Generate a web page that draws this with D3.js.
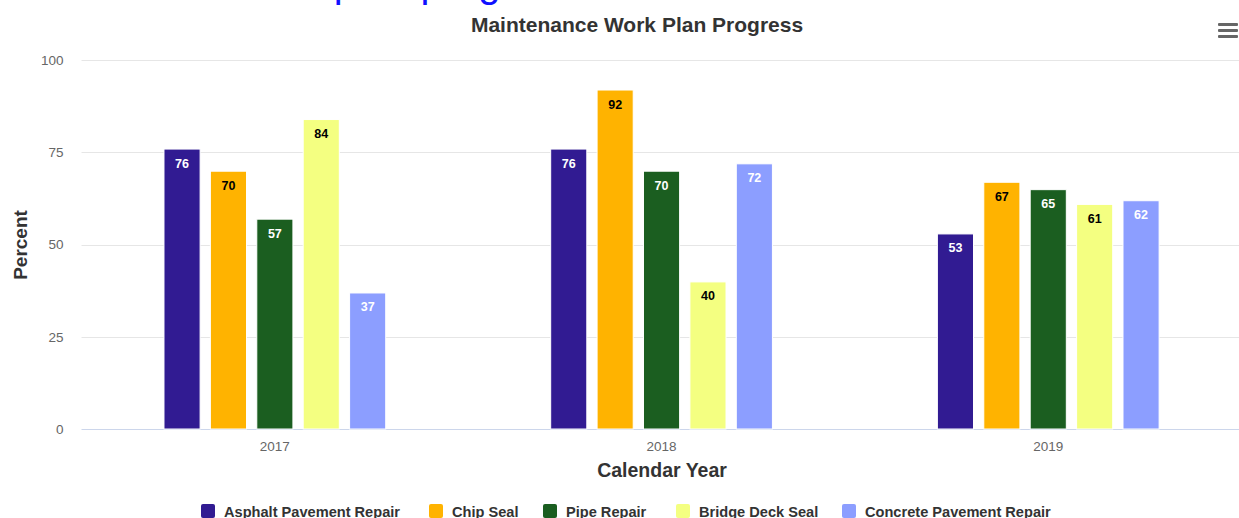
<!DOCTYPE html>
<html>
<head>
<meta charset="utf-8">
<script src="https://cdn.jsdelivr.net/npm/d3@7/dist/d3.min.js"></script>
<style>
  html, body { margin: 0; padding: 0; background: #fff; overflow: hidden; }
  svg { display: block; font-family: "Liberation Sans", Arial, Helvetica, sans-serif; }
</style>
</head>
<body>
<svg id="chart" width="1239" height="518"></svg>
<script>
// Work plan completion (%) by calendar year and maintenance activity
const years = ["2017", "2018", "2019"];
const activities = ["Asphalt Pavement Repair", "Chip Seal", "Pipe Repair", "Bridge Deck Seal", "Concrete Pavement Repair"];
const asphaltPavementRepair = [76, 76, 53];
const chipSeal = [70, 92, 67];
const pipeRepair = [57, 70, 65];
const bridgeDeckSeal = [84, 40, 61];
const concretePavementRepair = [37, 72, 62];
const yTicks = [0, 25, 50, 75, 100];

const seriesValues = [asphaltPavementRepair, chipSeal, pipeRepair, bridgeDeckSeal, concretePavementRepair];
const colors = ["#311b92", "#ffb300", "#1b5e20", "#f4ff81", "#8c9eff"];
const labelColors = ["#ffffff", "#000000", "#ffffff", "#000000", "#ffffff"];

const svg = d3.select("#chart");
const plot = { left: 81.5, right: 1241.6, top: 60, bottom: 429 };

const x0 = d3.scaleBand().domain(years).range([plot.left, plot.right]).padding(0);
const bw = x0.bandwidth();
const x1 = d3.scaleBand().domain(activities)
  .range([bw * 0.2, bw * 0.8]).paddingInner(0.2).paddingOuter(0.1);
const y = d3.scaleLinear().domain([0, 100]).range([plot.bottom, plot.top]);

// Page heading above the chart
svg.append("text")
  .attr("x", 230).attr("y", -3)
  .attr("font-size", 40).attr("fill", "#1010ff")
  .text("Work plan progress");

// Gridlines
svg.append("g").selectAll("line")
  .data(yTicks.filter(d => d > 0))
  .join("line")
  .attr("x1", plot.left).attr("x2", 1239)
  .attr("y1", d => Math.round(y(d)) + 0.5).attr("y2", d => Math.round(y(d)) + 0.5)
  .attr("stroke", "#e6e6e6");

// Y axis labels
const yAxis = svg.append("g").attr("transform", `translate(${plot.left - 18},0)`)
  .call(d3.axisLeft(y).tickValues(yTicks).tickSize(0).tickPadding(0));
yAxis.select(".domain").remove();
yAxis.selectAll("text").attr("font-size", 13.5).attr("fill", "#666666")
  .attr("font-family", "Liberation Sans, Arial, sans-serif");

// X axis
const xAxis = svg.append("g").attr("transform", `translate(0,${plot.bottom})`)
  .call(d3.axisBottom(x0).tickSize(0).tickPadding(12));
xAxis.select(".domain").remove();
xAxis.selectAll("text").attr("font-size", 13.5).attr("fill", "#666666")
  .attr("font-family", "Liberation Sans, Arial, sans-serif");
svg.append("line")
  .attr("x1", plot.left).attr("x2", 1239)
  .attr("y1", plot.bottom + 0.5).attr("y2", plot.bottom + 0.5)
  .attr("stroke", "#ccd6eb");

// Bars
const groups = svg.append("g").selectAll("g")
  .data(years)
  .join("g")
  .attr("transform", d => `translate(${x0(d)},0)`);

groups.each(function (year, yi) {
  const g = d3.select(this);
  activities.forEach((act, si) => {
    const v = seriesValues[si][yi];
    g.append("rect")
      .attr("x", x1(act) + 0.5)
      .attr("y", y(v) + 0.5)
      .attr("width", x1.bandwidth() - 1)
      .attr("height", y(0) - y(v) - 0.5)
      .attr("fill", colors[si])
      .attr("stroke", "#ffffff").attr("stroke-width", 1);
    g.append("text")
      .attr("x", x1(act) + x1.bandwidth() / 2)
      .attr("y", y(v) + 19)
      .attr("text-anchor", "middle")
      .attr("font-size", 12.5).attr("font-weight", "bold")
      .attr("fill", labelColors[si])
      .text(v);
  });
});

// Titles
svg.append("text")
  .attr("x", 637).attr("y", 32)
  .attr("text-anchor", "middle")
  .attr("font-size", 21).attr("font-weight", "bold").attr("fill", "#333333")
  .text("Maintenance Work Plan Progress");

svg.append("text")
  .attr("transform", "translate(27,245) rotate(-90)")
  .attr("text-anchor", "middle")
  .attr("font-size", 19).attr("font-weight", "bold").attr("fill", "#333333")
  .text("Percent");

svg.append("text")
  .attr("x", 662).attr("y", 477)
  .attr("text-anchor", "middle")
  .attr("font-size", 19.5).attr("font-weight", "bold").attr("fill", "#333333")
  .text("Calendar Year");

// Legend
const legendX = [201, 429, 543, 676, 842];
const legend = svg.append("g").selectAll("g")
  .data(activities)
  .join("g")
  .attr("transform", (d, i) => `translate(${legendX[i]},504)`);
legend.append("rect")
  .attr("width", 14).attr("height", 14).attr("rx", 2)
  .attr("fill", (d, i) => colors[i]);
legend.append("text")
  .attr("x", 23).attr("y", 13)
  .attr("font-size", 14.6).attr("font-weight", "bold").attr("fill", "#333333")
  .text(d => d);

// Context menu icon
svg.append("g").selectAll("rect")
  .data([0, 1, 2])
  .join("rect")
  .attr("x", 1218).attr("y", d => 23 + d * 6)
  .attr("width", 20).attr("height", 3).attr("rx", 1)
  .attr("fill", "#666666");
</script>
</body>
</html>
